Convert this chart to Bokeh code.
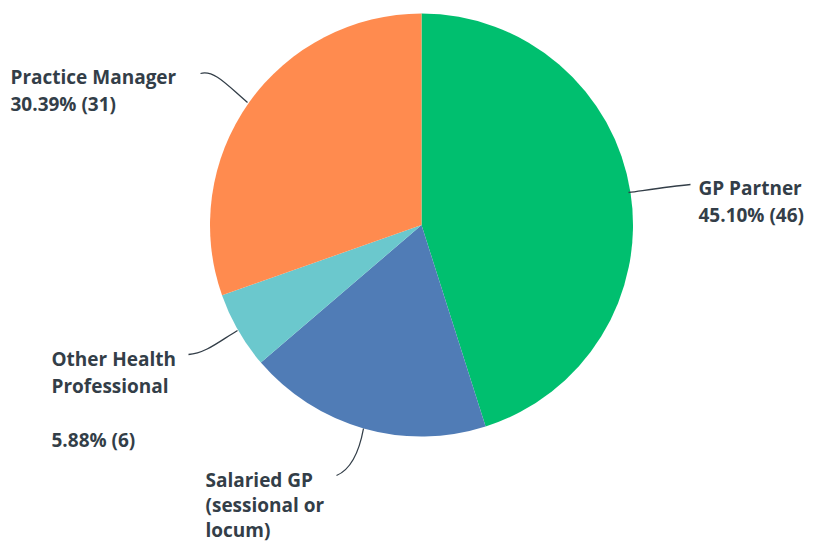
import numpy as np
from bokeh.plotting import figure
from bokeh.models import Range1d, ColumnDataSource
from bokeh.core.properties import value
from bokeh.embed import file_html
from bokeh.resources import INLINE

# ---- data ----
categories = ["GP Partner", "Salaried GP (sessional or locum)", "Other Health Professional", "Practice Manager"]
counts = [46, 19, 6, 31]
percents = ["45.10%", "18.63%", "5.88%", "30.39%"]
colors = ["#00BF6F", "#507CB6", "#6BC8CD", "#FF8B4F"]

W, H = 824, 542
CX, CY, R = 421, H - 224.5, 211.5

p = figure(width=W, height=H, output_backend="svg", toolbar_location=None,
           x_range=Range1d(0, W), y_range=Range1d(0, H), min_border=0)
p.axis.visible = False
p.grid.visible = False
p.outline_line_color = None
p.background_fill_color = "white"
p.border_fill_color = "white"

total = float(sum(counts))
frac = np.array(counts) / total
ends = np.cumsum(frac)
starts = ends - frac
start_ang = np.pi / 2 - starts * 2 * np.pi
end_ang = np.pi / 2 - ends * 2 * np.pi

src = ColumnDataSource(dict(x=[CX] * 4, y=[CY] * 4, s=start_ang, e=end_ang, c=colors))
p.wedge(x="x", y="y", radius=R, start_angle="s", end_angle="e", direction="clock",
        fill_color="c", line_color=None, source=src)

def fy(v):
    return H - v

leaders = [
    # x0, y0, x1, y1, cx0, cy0, cx1, cy1
    (628, 192, 690, 184, 650, 189, 670, 186),        # GP Partner
    (336, 475, 363, 428, 348, 470, 358, 455),        # Salaried GP
    (188, 354, 237, 330, 205, 353, 220, 340),        # Other Health
    (200, 73, 247, 102, 214, 69, 228, 86),           # Practice Manager
]
p.bezier(x0=[l[0] for l in leaders], y0=[fy(l[1]) for l in leaders],
         x1=[l[2] for l in leaders], y1=[fy(l[3]) for l in leaders],
         cx0=[l[4] for l in leaders], cy0=[fy(l[5]) for l in leaders],
         cx1=[l[6] for l in leaders], cy1=[fy(l[7]) for l in leaders],
         line_color="#333E48", line_width=1.3)

DY = 6
lines = [
    ("GP Partner", 698, 193),
    (f"{percents[0]} ({counts[0]})", 698, 220),
    ("Salaried GP", 205, 485),
    ("(sessional or", 205, 510),
    ("locum)", 205, 535),
    ("Other Health", 51, 364),
    ("Professional", 51, 391),
    (f"{percents[2]} ({counts[2]})", 51, 445),
    ("Practice Manager", 10, 82),
    (f"{percents[3]} ({counts[3]})", 10, 109),
]
p.text(x=[l[1] for l in lines], y=[fy(l[2] - DY) for l in lines], text=[l[0] for l in lines],
       text_font=value("Open Sans"), text_font_style="bold", text_font_size="19px",
       text_color="#333E48", text_baseline="alphabetic", text_align="left")

open("out.html", "w").write(file_html(p, INLINE))
